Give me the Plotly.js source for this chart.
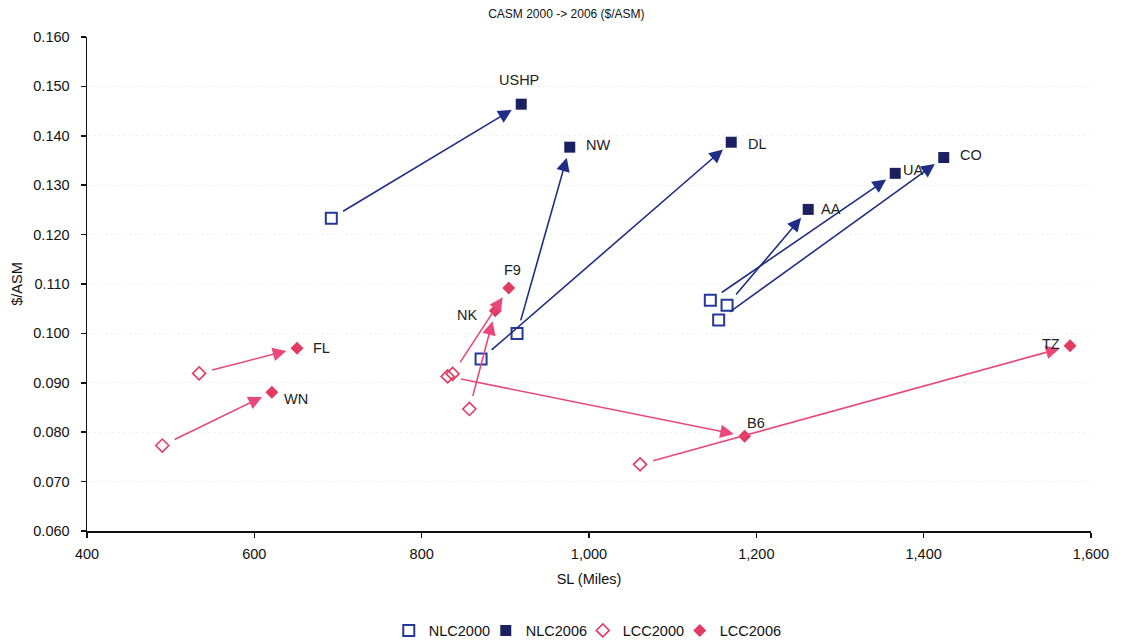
<!DOCTYPE html>
<html>
<head>
<meta charset="utf-8">
<script src="https://cdn.plot.ly/plotly-3.0.1.min.js"></script>
<style>
  html, body { margin: 0; padding: 0; background: #fff; }
  #chart { width: 1126px; height: 644px; }
</style>
</head>
<body>
<div id="chart"></div>
<script>
// ---- Data ----
const nlcNames    = ['USHP', 'NW', 'DL', 'AA', 'UA', 'CO'];
const nlcSL2000   = [692, 914, 871, 1165, 1145, 1155];
const nlcCASM2000 = [0.1233, 0.1000, 0.0948, 0.1057, 0.1067, 0.1027];
const nlcSL2006   = [919, 977, 1170, 1262, 1366, 1424];
const nlcCASM2006 = [0.1464, 0.1377, 0.1387, 0.1251, 0.1324, 0.1356];

const lccNames    = ['FL', 'WN', 'F9', 'NK', 'B6', 'TZ'];
const lccSL2000   = [534, 490, 837, 857, 831, 1061];
const lccCASM2000 = [0.0919, 0.0773, 0.0918, 0.0847, 0.0913, 0.0735];
const lccSL2006   = [651, 621, 904, 888, 1186, 1575];
const lccCASM2006 = [0.0970, 0.0881, 0.1092, 0.1046, 0.0792, 0.0975];

// label placement (style): [xanchor, xshift px, yshift px]
const nlcLabelStyle = [['center', -2, 24], ['left', 14, 2], ['left', 15, -2], ['left', 11, 0], ['left', 6, 3], ['left', 14, 3]];
const lccLabelStyle = [['left', 14, 0], ['left', 10, -7], ['center', 4, 18], ['right', -16, -4], ['center', 11, 13], ['right', -8, 2]];

const NAVY_FILL = '#1b2060';
const NAVY_LINE = '#1f2d86';
const NAVY_OPEN = '#24389a';
const PINK_FILL = '#e23a62';
const PINK_LINE = '#e8487a';
const FONT = 'Liberation Sans, Arial, sans-serif';
const FS = 14.5;

const traces = [
  { type: 'scatter', mode: 'markers', name: 'NLC2000', x: nlcSL2000, y: nlcCASM2000, legendwidth: 52,
    marker: { symbol: 'square-open', size: 11, color: NAVY_OPEN, line: { width: 2, color: NAVY_OPEN } } },
  { type: 'scatter', mode: 'markers', name: 'NLC2006', x: nlcSL2006, y: nlcCASM2006, legendwidth: 52,
    marker: { symbol: 'square', size: 11, color: NAVY_FILL } },
  { type: 'scatter', mode: 'markers', name: 'LCC2000', x: lccSL2000, y: lccCASM2000, legendwidth: 52,
    marker: { symbol: 'diamond-open', size: 10, color: PINK_FILL, line: { width: 1.6, color: PINK_FILL } } },
  { type: 'scatter', mode: 'markers', name: 'LCC2006', x: lccSL2006, y: lccCASM2006,
    marker: { symbol: 'diamond', size: 10, color: PINK_FILL } }
];

const annotations = [];
function addArrows(x0, y0, x1, y1, color) {
  for (let i = 0; i < x0.length; i++) {
    annotations.push({
      x: x1[i], y: y1[i], ax: x0[i], ay: y0[i],
      xref: 'x', yref: 'y', axref: 'x', ayref: 'y',
      text: '', showarrow: true, arrowhead: 2, arrowsize: 1.7, arrowwidth: 1.6,
      arrowcolor: color, standoff: 11, startstandoff: 12
    });
  }
}
function addLabels(xs, ys, names, styles) {
  for (let i = 0; i < names.length; i++) {
    annotations.push({
      x: xs[i], y: ys[i], xref: 'x', yref: 'y', text: names[i], showarrow: false,
      xanchor: styles[i][0], yanchor: 'middle', xshift: styles[i][1], yshift: styles[i][2],
      font: { family: FONT, size: FS, color: '#222' }
    });
  }
}
addArrows(nlcSL2000, nlcCASM2000, nlcSL2006, nlcCASM2006, NAVY_LINE);
addArrows(lccSL2000, lccCASM2000, lccSL2006, lccCASM2006, PINK_LINE);
addLabels(nlcSL2006, nlcCASM2006, nlcNames, nlcLabelStyle);
addLabels(lccSL2006, lccCASM2006, lccNames, lccLabelStyle);

const layout = {
  width: 1126, height: 644,
  paper_bgcolor: '#ffffff', plot_bgcolor: '#ffffff',
  font: { family: FONT, size: FS, color: '#111' },
  margin: { l: 87, r: 35, t: 37, b: 113, autoexpand: false },
  title: { text: 'CASM 2000 -> 2006 ($/ASM)', font: { family: FONT, size: 12, color: '#111' },
           x: 0.503, xanchor: 'center', y: 0.978, yanchor: 'middle' },
  xaxis: {
    range: [400, 1600], dtick: 200, tick0: 400, tickformat: ',d',
    showline: true, linecolor: '#111', linewidth: 1.5,
    ticks: 'outside', ticklen: 5, tickcolor: '#111', tickwidth: 1.5,
    ticklabelstandoff: 4,
    showgrid: false, zeroline: false, automargin: false,
    tickfont: { family: FONT, size: FS, color: '#111' },
    title: { text: 'SL (Miles)', font: { family: FONT, size: FS, color: '#111' }, standoff: 13 }
  },
  yaxis: {
    range: [0.06, 0.16], dtick: 0.01, tick0: 0.06, tickformat: '.3f',
    showline: true, linecolor: '#111', linewidth: 1.5,
    ticks: 'outside', ticklen: 5, tickcolor: '#111', tickwidth: 1.5,
    ticklabelstandoff: 8,
    showgrid: true, gridcolor: 'rgba(0,0,0,0.05)', griddash: 'dot', gridwidth: 1,
    zeroline: false, automargin: false,
    tickfont: { family: FONT, size: FS, color: '#111' },
    title: { text: '$/ASM', font: { family: FONT, size: FS, color: '#111' }, standoff: 7 }
  },
  legend: {
    orientation: 'h', xref: 'container', yref: 'container',
    x: 0.522, xanchor: 'center', y: 0.021, yanchor: 'middle',
    font: { family: FONT, size: FS, color: '#111' },
    itemwidth: 30
  },
  showlegend: true,
  annotations: annotations
};

Plotly.newPlot('chart', traces, layout, { displayModeBar: false, staticPlot: true });
</script>
</body>
</html>
